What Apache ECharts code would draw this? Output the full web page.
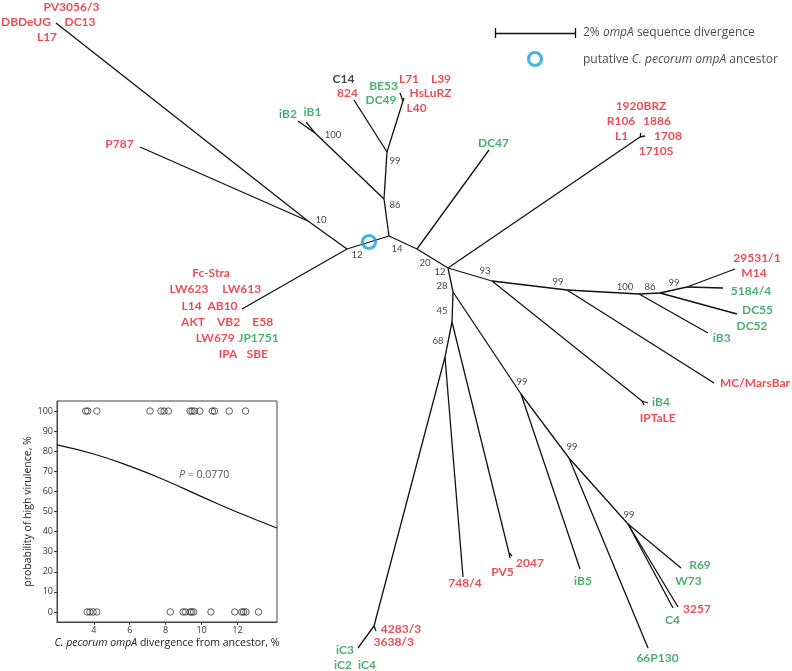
<!DOCTYPE html>
<html><head><meta charset="utf-8">
<script src="https://cdn.jsdelivr.net/npm/echarts@6/dist/echarts.min.js"></script>
<style>html,body{margin:0;padding:0;background:#fff}#c{width:792px;height:671px}</style>
</head><body><div id="c"></div>
<script>
// ---------- Tree nodes (layout units of the unrooted tree drawing) ----------
const nodeNames = ['n12a','nRoot','n10','n20','n12b','n86a','n99a','nBE','n100a','n28','n45','n68','nIC','n99h','n99i','n99j','n93','nIB4','n99n','n100o','n86p','n99q','nBRZ','nPV5',
  'tDB','tP787','tFc','tIB2','tIB1','t824','tBEa','tBEb','tDC47','tBRZa','tBRZb','tIB4a','tIB4b','tMC','tIB3','tDC55','t5184','t29531','t748','tPV5a','tPV5b','tIB5','t66P','tR69','tC4','t3257','t4283','tIC'];
const nodeX = [347,389,308,417,448,384,387,403,315,453,452,445,374,521,569,628,492,642,567,639,660,687,640,509,
  56,140,242,298,306,354,400,404,489,640,645,644,648,714,708,737,723,735,463,510,512,580,648,681,673,678,376,358];
const nodeY = [249,236,221,249,268,199,152,101,133,292,322,357,626,394,458,524,281,401,290,294,293,287,137,553,
  23,147,309,121,122,100,93,98,150,133,136,405,403,383,333,314,288,269,577,558,556,569,648,568,608,607,631,648];
const edges = [['nRoot','n12a'],['n12a','n10'],['n10','tDB'],['n10','tP787'],['n12a','tFc'],
  ['nRoot','n86a'],['n86a','n100a'],['n100a','tIB2'],['n100a','tIB1'],['n86a','n99a'],['n99a','t824'],['n99a','nBE'],['nBE','tBEa'],['nBE','tBEb'],
  ['nRoot','n20'],['n20','tDC47'],['n20','n12b'],['n12b','nBRZ'],['nBRZ','tBRZa'],['nBRZ','tBRZb'],
  ['n12b','n93'],['n93','nIB4'],['nIB4','tIB4a'],['nIB4','tIB4b'],['n93','n99n'],['n99n','tMC'],['n99n','n100o'],['n100o','tIB3'],['n100o','n86p'],['n86p','tDC55'],['n86p','n99q'],['n99q','t5184'],['n99q','t29531'],
  ['n12b','n28'],['n28','n45'],['n45','n68'],['n68','nIC'],['nIC','t4283'],['nIC','tIC'],['n68','t748'],['n45','nPV5'],['nPV5','tPV5a'],['nPV5','tPV5b'],
  ['n28','n99h'],['n99h','tIB5'],['n99h','n99i'],['n99i','t66P'],['n99i','n99j'],['n99j','tR69'],['n99j','tC4'],['n99j','t3257']];

// ---------- Strain labels ----------
const redNames = ['PV3056/3','DBDeUG','DC13','L17','P787','824','L71','L39','HsLuRZ','L40','1920BRZ','R106','1886','L1','1708','1710S',
  'Fc-Stra','LW623','LW613','L14','AB10','AKT','VB2','E58','LW679','IPA','SBE','29531/1','M14','MC/MarsBar','IPTaLE','748/4','PV5','2047','4283/3','3638/3','3257'];
const redX = [71.5,26,80,47,119.5,347.5,409,441,430.5,416.7,641,621,657,621.5,668,656,
  211,189,241.7,191.7,222.5,193,228.5,262.7,215.3,228,257.3,757,754,755,657.7,465,502.5,530,401,393.7,697];
const redY = [7,22,22,37,144,93.5,79,79,93.5,108,106,121,121,136,136,151,
  273,289,289,306,306,321.7,321.7,321.7,338,354,354,258,273,383,418,583,572,563,629,642,609];
const greenNames = ['BE53','DC49','iB2','iB1','DC47','JP1751','5184/4','DC55','DC52','iB3','iB4','iB5','66P130','R69','W73','C4','iC3','iC2','iC4'];
const greenX = [383.5,381,288,312.5,493.5,258.5,751,757.5,752,721.7,661,583,657.5,700,688.5,672.5,345,343,367];
const greenY = [86,100,114,112,143,338,291,310,326,338,402,581,658,565,581,620,650,665,665];
const blackNames = ['C14'];
const blackX = [343.5];
const blackY = [79];

// ---------- Bootstrap support values ----------
const supportVals = ['100','99','86','10','12','14','20','12','93','28','45','68','99','100','86','99','99','99','99'];
const supportX = [333,395,395,321,357,397,425,440,485,442,442,438,558,625,650,674,522,572,629];
const supportY = [135,161,205,220,255,249,263,272,271,286,311,341,282,287,287,283,382,447,515];

// ---------- Ancestor + legend ----------
const ancestorPos = [369,242];
const scaleBar = [[495,33],[575,33]];
const legendCirclePos = [535,59];

// ---------- Inset: virulence vs divergence ----------
const highX = [3.55,3.66,4.17,7.13,7.74,7.91,8.15,9.36,9.47,9.6,9.9,10.6,10.72,11.54,12.45];
const lowX = [3.63,3.78,3.96,4.17,8.26,8.97,9.1,9.36,9.45,9.56,10.52,11.85,12.24,12.34,12.47,13.17];
const curveX = [1.95,4,6,8,10,12,14.2];
const curveY = [83.2,78.6,72.6,65.4,57.4,49.6,41.8];
const yTicks = [0,10,20,30,40,50,60,70,80,90,100];
const xTicks = [4,6,8,10,12];

const FONT = "'Open Sans', sans-serif";
const LFONT = "Lato, 'Open Sans', sans-serif";
const RED = '#e2232b', GREEN = '#1e9a4b';
const idx = n => nodeNames.indexOf(n);
const pt = n => [nodeX[idx(n)], nodeY[idx(n)]];

function labelSeries(names, xs, ys, color, size, weight, font) {
  return {
    type: 'scatter', xAxisIndex: 0, yAxisIndex: 0, symbolSize: 1, silent: true,
    itemStyle: { color: 'rgba(0,0,0,0)' },
    data: names.map((n, i) => ({ name: n, value: [xs[i], ys[i]] })),
    label: { show: true, position: 'inside', formatter: p => p.name, color: color,
      fontFamily: font, fontSize: size, fontWeight: weight, align: 'center', verticalAlign: 'middle' },
    z: 5
  };
}

const chart = echarts.init(document.getElementById('c'), null, { renderer: 'canvas' });
const option = {
  animation: false,
  backgroundColor: '#fff',
  grid: [
    { left: 0, right: 0, top: 0, bottom: 0 },
    { left: 57, top: 401, width: 220, height: 221, show: true, borderColor: '#444', borderWidth: 1, backgroundColor: 'rgba(0,0,0,0)', z: 3 }
  ],
  xAxis: [
    { type: 'value', gridIndex: 0, min: 0, max: 792, show: false },
    { type: 'value', gridIndex: 1, min: 1.95, max: 14.2,
      axisLine: { show: true, onZero: false, lineStyle: { color: '#444' } },
      axisTick: { show: true, length: 3, customValues: xTicks, lineStyle: { color: '#444' } },
      axisLabel: { customValues: xTicks, color: '#333', fontFamily: FONT, fontSize: 9, margin: 4 },
      splitLine: { show: false },
      name: '{i|C. pecorum} {i|ompA} divergence from ancestor, %', nameLocation: 'middle', nameGap: 16,
      nameTextStyle: { fontFamily: FONT, fontSize: 10.5, color: '#222',
        rich: { i: { fontStyle: 'italic', fontFamily: FONT, fontSize: 10.5, color: '#222' } } } }
  ],
  yAxis: [
    { type: 'value', gridIndex: 0, min: 0, max: 671, inverse: true, show: false },
    { type: 'value', gridIndex: 1, min: -5, max: 105,
      axisLine: { show: true, onZero: false, lineStyle: { color: '#444' } },
      axisTick: { show: true, length: 3, customValues: yTicks, lineStyle: { color: '#444' } },
      axisLabel: { customValues: yTicks, color: '#333', fontFamily: FONT, fontSize: 9, margin: 4 },
      splitLine: { show: false },
      name: 'probability of high virulence, %', nameLocation: 'middle', nameGap: 14,
      nameTextStyle: { fontFamily: FONT, fontSize: 10.5, color: '#222' } }
  ],
  series: [
    { type: 'lines', coordinateSystem: 'cartesian2d', xAxisIndex: 0, yAxisIndex: 0, silent: true,
      data: edges.map(e => ({ coords: [pt(e[0]), pt(e[1])] })),
      lineStyle: { color: '#111', width: 1.3, opacity: 1 }, z: 2 },
    // scale bar
    { type: 'lines', coordinateSystem: 'cartesian2d', xAxisIndex: 0, yAxisIndex: 0, silent: true,
      data: [
        { coords: scaleBar },
        { coords: [[scaleBar[0][0], scaleBar[0][1] - 5], [scaleBar[0][0], scaleBar[0][1] + 5]] },
        { coords: [[scaleBar[1][0], scaleBar[1][1] - 5], [scaleBar[1][0], scaleBar[1][1] + 5]] }
      ],
      lineStyle: { color: '#111', width: 1.3, opacity: 1 }, z: 2 },
    // ancestor circle + legend circle
    { type: 'scatter', xAxisIndex: 0, yAxisIndex: 0, silent: true, symbol: 'circle', symbolSize: 13,
      itemStyle: { color: 'rgba(255,255,255,0)', borderColor: '#1ba0dc', borderWidth: 3.2 },
      data: [ancestorPos, legendCirclePos], z: 6 },
    // legend texts
    { type: 'scatter', xAxisIndex: 0, yAxisIndex: 0, silent: true, symbolSize: 1, itemStyle: { color: 'rgba(0,0,0,0)' },
      data: [
        { name: '2% {i|ompA} sequence divergence', value: [583, 33] },
        { name: 'putative {i|C. pecorum ompA} ancestor', value: [583, 60] }
      ],
      label: { show: true, position: 'inside', formatter: p => p.name, align: 'left', verticalAlign: 'middle',
        fontFamily: FONT, fontSize: 12, color: '#1a1a1a',
        rich: { i: { fontStyle: 'italic', fontFamily: FONT, fontSize: 12, color: '#1a1a1a' } } }, z: 6 },
    labelSeries(redNames, redX, redY, RED, 12, 'bold', LFONT),
    labelSeries(greenNames, greenX, greenY, GREEN, 12, 'bold', LFONT),
    labelSeries(blackNames, blackX, blackY, '#111', 12, 'bold', LFONT),
    labelSeries(supportVals, supportX, supportY, '#111', 9.5, 'normal', LFONT),
    // inset
    { type: 'scatter', xAxisIndex: 1, yAxisIndex: 1, silent: true, symbol: 'circle', symbolSize: 6.5,
      itemStyle: { color: 'rgba(255,255,255,0)', borderColor: '#222', borderWidth: 0.9 },
      data: highX.map(x => [x, 100]).concat(lowX.map(x => [x, 0])), z: 4 },
    { type: 'line', xAxisIndex: 1, yAxisIndex: 1, silent: true, smooth: true, symbol: 'none',
      data: curveX.map((x, i) => [x, curveY[i]]), lineStyle: { color: '#111', width: 1.2 }, z: 4 },
    { type: 'scatter', xAxisIndex: 1, yAxisIndex: 1, silent: true, symbolSize: 1, itemStyle: { color: 'rgba(0,0,0,0)' },
      data: [{ name: '{i|P} = 0.0770', value: [8.75, 68] }],
      label: { show: true, position: 'inside', formatter: p => p.name, align: 'left', verticalAlign: 'middle',
        fontFamily: FONT, fontSize: 10.5, color: '#222',
        rich: { i: { fontStyle: 'italic', fontFamily: FONT, fontSize: 10.5, color: '#222' } } }, z: 5 }
  ]
};
chart.setOption(option);
</script>
</body></html>
